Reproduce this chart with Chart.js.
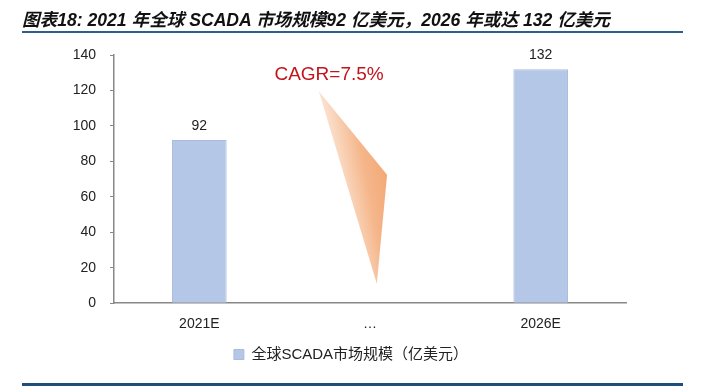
<!DOCTYPE html>
<html><head><meta charset="utf-8">
<script src="https://cdn.jsdelivr.net/npm/chart.js@4.4.0/dist/chart.umd.min.js"></script>
<style>
html,body{margin:0;padding:0;background:#fff;}
#wrap{position:relative;width:702px;height:387px;overflow:hidden;}
#title{position:absolute;left:22px;top:6px;font:italic bold 17.6px "Liberation Sans","Noto Sans CJK SC",sans-serif;color:#111;white-space:nowrap;}
#tl{position:absolute;left:22px;top:31px;width:661px;height:2px;background:#2F5E8C;}
#bl{position:absolute;left:22px;top:383px;width:661px;height:3px;background:#1F4E79;}
canvas{position:absolute;left:0;top:0;}
</style></head>
<body><div id="wrap">
<canvas id="c" width="702" height="387"></canvas>
<div id="title">图表18: 2021 年全球 SCADA 市场规模92 亿美元，2026 年或达 132 亿美元</div>
<div id="tl"></div><div id="bl"></div>
</div>
<script>
const categories = ["2021E", "…", "2026E"];
const marketSize = [92, null, 132];
const seriesName = "全球SCADA市场规模（亿美元）";
const yTicks = [0, 20, 40, 60, 80, 100, 120, 140];
const cagrText = "CAGR=7.5%";
// arrow triangle anchor points in data units (category index, value)
const arrowPts = [[0.70, 119.5], [1.10, 72.5], [1.04, 11]];

const barColor = "#B4C7E7";
const font = '"Liberation Sans","Noto Sans CJK SC",sans-serif';

const deco = {
  id: "deco",
  afterDatasetsDraw(chart) {
    const ctx = chart.ctx, xs = chart.scales.x, ys = chart.scales.y;
    const meta = chart.getDatasetMeta(0);
    ctx.save();
    ctx.font = "14px " + font; ctx.fillStyle = "#222"; ctx.textAlign = "center"; ctx.textBaseline = "middle";
    meta.data.forEach((b, i) => {
      if (marketSize[i] == null) return;
      ctx.fillText(String(marketSize[i]), b.x, b.y - 14);
    });
    const p = arrowPts.map(([a, v]) => [xs.getPixelForValue(a), ys.getPixelForValue(v)]);
    const g = ctx.createLinearGradient(p[0][0] + 8, p[1][1], p[1][0] + 2, p[1][1] - 12);
    g.addColorStop(0, "rgba(252,236,224,0.9)");
    g.addColorStop(0.6, "#F5B68A");
    g.addColorStop(1, "#F2A673");
    ctx.beginPath(); ctx.moveTo(p[0][0], p[0][1]); ctx.lineTo(p[1][0], p[1][1]); ctx.lineTo(p[2][0], p[2][1]); ctx.closePath();
    ctx.fillStyle = g; ctx.fill();
    ctx.font = "19px " + font; ctx.fillStyle = "#C0151B"; ctx.textAlign = "left"; ctx.textBaseline = "middle";
    ctx.fillText(cagrText, xs.getPixelForValue(0.44), ys.getPixelForValue(129));
    ctx.restore();
  }
};

new Chart(document.getElementById("c"), {
  type: "bar",
  data: { labels: categories, datasets: [{ label: seriesName, data: marketSize, backgroundColor: barColor, borderColor: "#A9BCDD", borderWidth: 1, categoryPercentage: 1, barPercentage: 0.32 }] },
  options: {
    responsive: false, animation: false,
    layout: { padding: { left: 0, right: 0, top: 55, bottom: 15 } },
    plugins: {
      legend: { position: "bottom", labels: { font: { size: 15, family: font }, color: "#222", boxWidth: 10, boxHeight: 10, padding: 1, useBorderRadius: false } },
      tooltip: { enabled: false }
    },
    scales: {
      x: { grid: { display: false, drawTicks: false }, border: { display: true, color: "#888", width: 1.5 },
           ticks: { font: { size: 14, family: font }, color: "#222", padding: 13 } },
      y: { min: 0, max: 140, afterFit(s) { s.width = 114; },
           afterBuildTicks(s) { s.ticks = yTicks.map(v => ({ value: v })); },
           grid: { drawOnChartArea: false, drawTicks: true, tickLength: 4, color: "#888" }, border: { display: true, color: "#888", width: 1.5 },
           ticks: { font: { size: 14, family: font }, color: "#222", padding: 14 } },
      yr: { position: "right", min: 0, max: 140, afterFit(s) { s.width = 76; },
            grid: { display: false, drawTicks: false }, border: { display: false }, ticks: { display: false } }
    }
  },
  plugins: [deco]
});
</script>
</body></html>
